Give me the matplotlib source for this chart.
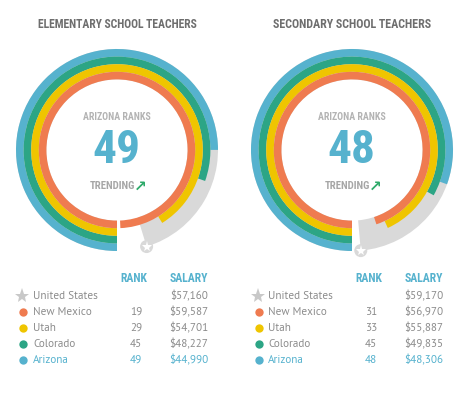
import matplotlib
matplotlib.use("Agg")
import matplotlib.pyplot as plt
from matplotlib.patches import Wedge, Circle
from matplotlib import font_manager as fm
import numpy as np

# ---------------- data ----------------
countries = ["United States", "New Mexico", "Utah", "Colorado", "Arizona"]
elem_salary = [57160, 59587, 54701, 48227, 44990]
elem_rank = ["", "19", "29", "45", "49"]
sec_salary = [59170, 56970, 55887, 49835, 48306]
sec_rank = ["", "31", "33", "45", "48"]
titles = ["ELEMENTARY SCHOOL TEACHERS", "SECONDARY SCHOOL TEACHERS"]
az_rank = ["49", "48"]
scale_max = 60000

colors = ["#c8c8c8", "#ef7b50", "#efc500", "#2ca585", "#56b2ce"]
ring_gray = "#d9d9d9"

names = {f.name for f in fm.fontManager.ttflist}
def pick(*cands):
    for n in cands:
        if n in names:
            return n
    return "DejaVu Sans"
COND = pick("Roboto Condensed", "Liberation Sans Narrow", "DejaVu Sans Condensed", "Roboto")
BODY = pick("PT Sans", "Lato", "Open Sans", "Roboto", "DejaVu Sans")

fig = plt.figure(figsize=(4.6, 3.93), dpi=100)
ax = fig.add_axes([0, 0, 1, 1])
ax.set_xlim(0, 460)
ax.set_ylim(393, 0)
ax.axis("off")

texts_to_fit = []
def fit_text(x, y, s, w, h, **kw):
    t = ax.text(x, y, s, fontsize=h, **kw)
    texts_to_fit.append((t, w, h))
    return t

r_out = 101
rw = 7.6

for k, (cx, salaries, ranks) in enumerate([(117, elem_salary, elem_rank), (352, sec_salary, sec_rank)]):
    cy = 150
    # background US arc (gray), spanning all rings
    us_sweep = salaries[0] / scale_max * 360
    ax.add_patch(Wedge((cx, cy), r_out, 90, 90 + us_sweep, width=4 * rw, facecolor=ring_gray, edgecolor="none"))
    # state rings: outer -> inner : Arizona, Colorado, Utah, New Mexico
    for j, idx in enumerate([4, 3, 2, 1]):
        sweep = salaries[idx] / scale_max * 360
        r = r_out - j * rw
        ax.add_patch(Wedge((cx, cy), r, 90, 90 + sweep, width=rw, facecolor=colors[idx], edgecolor="none"))
    # star marker at end of US arc
    a = np.deg2rad(90 + us_sweep)
    sx, sy = cx + r_out * np.cos(a), cy + r_out * np.sin(a)
    ax.add_patch(Circle((sx, sy), 6.5, facecolor=ring_gray, edgecolor="none", zorder=5))
    ax.plot([sx], [sy], marker="*", color="white", markersize=8, zorder=6, markeredgewidth=0)

    # titles and center text
    fit_text(cx, 24, titles[k], 160, 12, ha="center", va="center", color="#6e6e6e",
             fontweight="bold", family=COND)
    fit_text(cx, 117, "ARIZONA RANKS", 67, 8.5, ha="center", va="center", color="#b3b3b3",
             fontweight="bold", family=COND)
    fit_text(cx - 1, 150, az_rank[k], 48, 42, ha="center", va="center", color="#56b2ce",
             fontweight="bold", family=COND)
    fit_text(cx - 5, 186, "TRENDING", 45, 11, ha="center", va="center", color="#a6a6a6",
             fontweight="bold", family=COND)
    ax.text(cx + 23, 186, "\u2197", ha="center", va="center", color="#2eaa6a",
            fontsize=11, fontweight="bold", family="DejaVu Sans")

    # table
    x0 = 22 if k == 0 else 258
    xl = 33 if k == 0 else 268
    xr = 142 if k == 0 else 377
    xs = 208 if k == 0 else 443
    ax.text(xr + 5, 278, "RANK", ha="right", va="center", color="#56b2ce", fontsize=8.5,
            fontweight="bold", family=COND)
    ax.text(xs, 278, "SALARY", ha="right", va="center", color="#56b2ce", fontsize=8.5,
            fontweight="bold", family=COND)
    for i, name in enumerate(countries):
        y = 296 + 16 * i
        tc = "#56b2ce" if name == "Arizona" else "#8c8c8c"
        if i == 0:
            ax.plot([x0], [y], marker="*", color=colors[0], markersize=11, markeredgewidth=0)
        else:
            ax.plot([x0 + 1], [y], marker="o", color=colors[i], markersize=6, markeredgewidth=0)
        ax.text(xl, y, name, ha="left", va="center", color=tc, fontsize=8, family=BODY)
        ax.text(xr, y, ranks[i], ha="right", va="center", color=tc, fontsize=8, family=BODY)
        ax.text(xs, y, "${:,}".format(salaries[i]), ha="right", va="center", color=tc,
                fontsize=8, family=BODY)

fig.canvas.draw()
r = fig.canvas.get_renderer()
for t, w, h in texts_to_fit:
    bb = t.get_window_extent(r)
    if bb.width > w:
        t.set_fontsize(h * w / bb.width)

fig.savefig("out.png", dpi=100, facecolor="white")
